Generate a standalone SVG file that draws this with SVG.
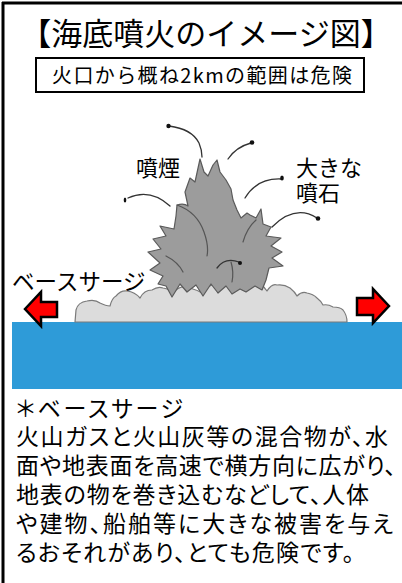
<svg xmlns="http://www.w3.org/2000/svg" width="402" height="583" viewBox="0 0 402 583">
  <style>
    .jp { font-family: "Noto Sans CJK JP", "Noto Sans", sans-serif; fill: #000; }
    .prop { font-feature-settings: "palt"; }
    .frame { stroke: #000; stroke-width: 3; fill: none; }
    .plume { fill: #9c9c9c; stroke: #5a5a5a; stroke-width: 1.2; stroke-linejoin: round; }
    .fold { fill: none; stroke: #555; stroke-width: 1.2; stroke-linecap: round; }
    .cloud { fill: #dcdcdc; stroke: #7a7a7a; stroke-width: 1.2; stroke-linejoin: round; }
    .trail { fill: none; stroke: #333; stroke-width: 1.3; stroke-linecap: round; }
    .bomb { fill: #111; }
    .arrow { fill: #ff0000; stroke: #000; stroke-width: 2.5; stroke-linejoin: miter; }
  </style>

  <!-- outer frame: top and left edges only -->
  <g id="frame">
    <line class="frame" x1="3" y1="2" x2="3" y2="583"/>
    <line class="frame" x1="2" y1="3" x2="402" y2="3"/>
  </g>

  <!-- heading -->
  <g id="title">
    <text class="jp" x="206" y="45" font-size="31" text-anchor="middle">【海底噴火のイメージ図】</text>
  </g>

  <!-- danger-range caption -->
  <g id="caption">
    <rect x="36" y="58" width="328" height="34" fill="#fff" stroke="#000" stroke-width="2"/>
    <text class="jp" x="52" y="83" font-size="20" textLength="300" lengthAdjust="spacing">火口から概ね2kmの範囲は危険</text>
  </g>

  <!-- sea surface -->
  <g id="sea">
    <rect x="12" y="322" width="390" height="67" fill="#2e9bd8"/>
  </g>

  <!-- base surge cloud spreading over the water -->
  <g id="surge-cloud">
    <path class="cloud" d="M75,322 L76,310 Q78,302 87,301 Q95,299 100,303 Q106,306 110,306 Q112,298 116,296 Q121,290 127,291 Q135,292 140,298 Q144,290 152,290 Q158,286 163,288 Q170,289 173,293 Q180,284 190,288 Q197,290 202,293 Q210,282 220,285 Q228,280 234,282 Q240,276 247,278 Q255,278 260,283 Q264,287 267,291 Q272,283 277,285 Q284,284 290,288 Q295,292 297,296 Q302,291 307,293 Q313,294 317,298 Q321,301 323,305 Q328,304 333,307 Q340,307 343,310 Q347,315 347,322 Z"/>
  </g>

  <!-- eruption column -->
  <g id="plume">
    <path class="plume" d="M172,297 L166,286 L158,284 L163,276 L150,270 L160,263 L148,252 L161,249 L153,239 L166,236 L160,226 L174,229 L176,216 L177,205 Q184,203 188,206 L185,192 L190,178 L195,182 L200,159 L204,172 L208,176 L213,165 L217,160 L220,172 L226,180 L231,189 L233,200 L237,210 L241,218 L247,213 L250,215 L256,218 L261,209 L263,224 L271,227 L266,236 L281,238 L271,246 L282,252 L272,258 L283,266 L269,268 L266,280 L262,290 L255,286 L246,292 L240,289 L232,294 L226,286 L218,293 L211,284 L203,296 L196,285 L187,292 L180,284 Z"/>
    <path class="fold" d="M177,205 Q197,212 204,232 Q209,246 207,256"/>
    <path class="fold" d="M256,220 Q247,228 243,242"/>
    <path class="fold" d="M166,256 Q178,262 183,272"/>
    <path class="fold" d="M231,262 Q234,272 232,282"/>
  </g>

  <!-- ejected volcanic bombs with their flight paths -->
  <g id="bombs">
    <path class="trail" d="M169,126 Q192,129 199,143 Q202,150 202,157"/>
    <circle class="bomb" cx="168.5" cy="126" r="2.2"/>
    <path class="trail" d="M251,143 Q236,147 228,159"/>
    <circle class="bomb" cx="252" cy="142.5" r="2.3"/>
    <path class="trail" d="M281,179 Q257,178 245,198"/>
    <ellipse class="bomb" cx="282" cy="178" rx="1.8" ry="2.6"/>
    <path class="trail" d="M128,198 Q150,188 170,206"/>
    <ellipse class="bomb" cx="125" cy="200" rx="1.3" ry="2.6"/>
    <path class="trail" d="M317,218 Q295,204 272,227"/>
    <circle class="bomb" cx="318" cy="218.5" r="2.3"/>
    <path class="trail" d="M217,268 Q225,257 239,262"/>
    <circle class="bomb" cx="240" cy="263" r="2"/>
  </g>

  <!-- labels on the illustration -->
  <g id="label-smoke">
    <text class="jp" x="136" y="176" font-size="22">噴煙</text>
  </g>
  <g id="label-bombs">
    <text class="jp" x="296" y="176" font-size="22">大きな</text>
    <text class="jp" x="296" y="201" font-size="22">噴石</text>
  </g>
  <g id="label-surge">
    <text class="jp" x="12" y="290" font-size="22.5">ベースサージ</text>
  </g>

  <!-- base surge direction arrows -->
  <g id="arrow-left">
    <path class="arrow" d="M25,309 L41,292 L41,302 L57,302 L57,317 L41,317 L41,326 Z"/>
  </g>
  <g id="arrow-right">
    <path class="arrow" d="M389,306 L373,289 L373,298 L357,298 L357,315 L373,315 L373,323 Z"/>
  </g>

  <!-- explanatory note, proportional spacing -->
  <g id="note" class="jp prop" font-size="23">
    <text x="16" y="417" textLength="167" lengthAdjust="spacing">＊ベースサージ</text>
    <text x="16" y="445" textLength="372" lengthAdjust="spacing">火山ガスと火山灰等の混合物が、水</text>
    <text x="16" y="474" textLength="380" lengthAdjust="spacing">面や地表面を高速で横方向に広がり、</text>
    <text x="16" y="503" textLength="353" lengthAdjust="spacing">地表の物を巻き込むなどして、人体</text>
    <text x="16" y="532" textLength="377" lengthAdjust="spacing">や建物、船舶等に大きな被害を与え</text>
    <text x="16" y="561" textLength="338" lengthAdjust="spacing">るおそれがあり、とても危険です。</text>
  </g>
</svg>
